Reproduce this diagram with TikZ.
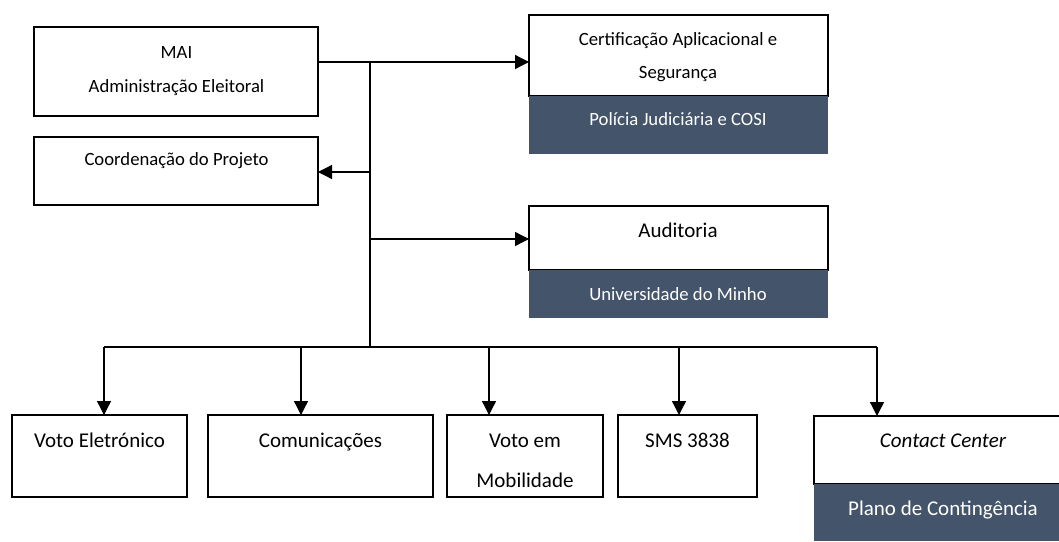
\documentclass[tikz,border=0pt]{standalone}
\usepackage{fontspec}
\setmainfont{Carlito}
\usetikzlibrary{arrows.meta}
\definecolor{slate}{HTML}{44546A}
\tikzset{
  box/.style={draw=black, line width=1.8pt, fill=white, inner sep=0pt, outer sep=0pt},
  band/.style={fill=slate, draw=none, inner sep=0pt, outer sep=0pt},
  small/.style={font=\fontsize{18.7}{22}\selectfont, anchor=base, inner sep=0pt},
  large/.style={font=\fontsize{21}{25}\selectfont, anchor=base, inner sep=0pt},
  onband/.style={text=white},
  link/.style={line width=1.3pt, -{Triangle[length=14pt,width=14pt]}},
  trunk/.style={line width=2pt},
}
\begin{document}
\begin{tikzpicture}[x=1pt,y=-1pt]
\useasboundingbox (0,0) rectangle (1059,541);

% top-left boxes
\node[box, minimum width=284, minimum height=89] (mai) at (176,71.5) {};
\node[box, minimum width=284, minimum height=68] (coord) at (176,171) {};
\node[small] (tmai) at (176.5,58) {MAI};
\node[small] (tadm) at (176.5,92) {Administração Eleitoral};
\node[small] (tcoord) at (176.5,165) {Coordenação do Projeto};

% certification box with its band
\node[box, minimum width=299, minimum height=81] (cert) at (678.5,55.5) {};
\node[band, minimum width=299, minimum height=58] (pj) at (678.5,125) {};
\node[small] (tcert1) at (678,45) {Certificação Aplicacional e};
\node[small] (tcert2) at (678,78) {Segurança};
\node[small, onband] (tpj) at (678,125) {Polícia Judiciária e COSI};

% audit box with its band
\node[box, minimum width=299, minimum height=64] (aud) at (678.5,238) {};
\node[band, minimum width=299, minimum height=48] (um) at (678.5,294) {};
\node[large] (taud) at (678,237) {Auditoria};
\node[small, onband] (tum) at (678,300) {Universidade do Minho};

% bottom row
\node[box, minimum width=175, minimum height=82] (ve) at (99.5,456) {};
\node[box, minimum width=225, minimum height=82] (com) at (320.5,456) {};
\node[box, minimum width=156, minimum height=82] (vm) at (525,456) {};
\node[box, minimum width=139, minimum height=82] (sms) at (687.5,456) {};
\node[box, minimum width=247, minimum height=68] (cc) at (937.5,450) {};
\node[band, minimum width=247, minimum height=57] (pc) at (937.5,512.5) {};
\node[large] (tve) at (99.5,447) {Voto Eletrónico};
\node[large] (tcom) at (320.5,447) {Comunicações};
\node[large] (tvm1) at (525,447) {Voto em};
\node[large] (tvm2) at (525,487) {Mobilidade};
\node[large] (tsms) at (687.5,447) {SMS 3838};
\node[large] (tcc) at (943,447) {\itshape Contact Center};
\node[large, onband] (tpc) at (943,515) {Plano de Contingência};

% junction points
\coordinate (j0) at (370,62);
\coordinate (jc) at (370,172);
\coordinate (ja) at (370,239);
\coordinate (jb) at (370,347);
\coordinate (b1) at (104,347);
\coordinate (b2) at (301,347);
\coordinate (b3) at (489,347);
\coordinate (b4) at (679,347);
\coordinate (b5) at (877,347);

% connectors
\draw[link] (j0 -| mai.east) -- (j0 -| cert.west);
\draw[trunk] (j0) -- (jb);
\draw[link] (jc) -- (jc -| coord.east);
\draw[link] (ja) -- (ja -| aud.west);
\draw[trunk] (b1) -- (b5);
\draw[link] (b1) -- (b1 |- ve.north);
\draw[link] (b2) -- (b2 |- com.north);
\draw[link] (b3) -- (b3 |- vm.north);
\draw[link] (b4) -- (b4 |- sms.north);
\draw[link] (b5) -- (b5 |- cc.north);
\end{tikzpicture}
\end{document}
